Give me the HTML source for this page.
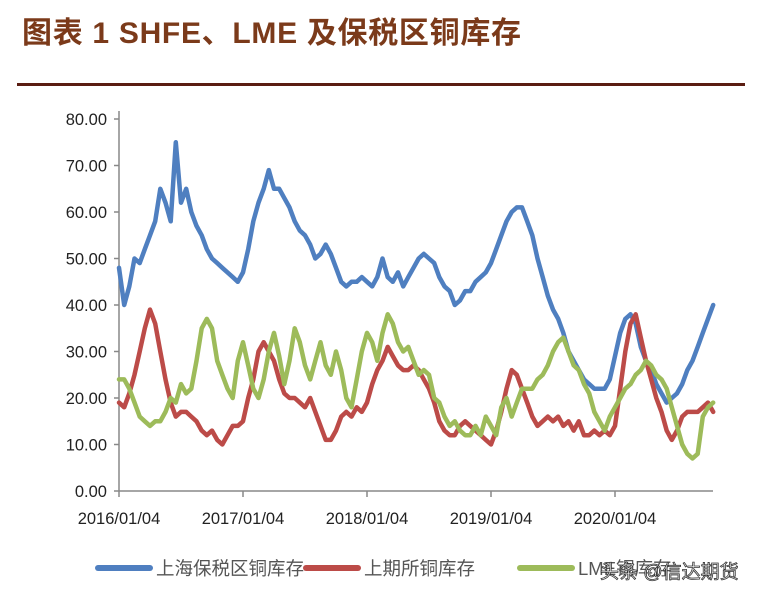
<!DOCTYPE html>
<html><head><meta charset="utf-8"><style>
body{margin:0;background:#fff;width:759px;height:600px;overflow:hidden;font-family:"Liberation Sans","Noto Sans CJK SC",sans-serif}
#title{position:absolute;left:22px;top:8px;font-size:30px;font-weight:bold;color:#7b3a1a;letter-spacing:0.7px}
#rule{position:absolute;left:17px;top:83px;width:728px;height:3px;background:#5a1d12}
svg{position:absolute;left:0;top:0}
</style></head><body>
<div id="title">图表 1 SHFE、LME 及保税区铜库存</div>
<div id="rule"></div>
<svg id="chart" width="759" height="600"></svg>
<script>
const yTicks=[0,10,20,30,40,50,60,70,80];
const xTickLabels=["2016/01/04","2017/01/04","2018/01/04","2019/01/04","2020/01/04"];
const seriesNames=["上海保税区铜库存","上期所铜库存","LME铜库存"];
const bonded=[48,40,44,50,49,52,55,58,65,62,58,75,62,65,60,57,55,52,50,49,48,47,46,45,
47,52,58,62,65,69,65,65,63,61,58,56,55,53,50,51,53,51,48,45,44,45,45,46,
45,44,46,50,46,45,47,44,46,48,50,51,50,49,46,44,43,40,41,43,43,45,46,47,
49,52,55,58,60,61,61,58,55,50,46,42,39,37,34,30,28,26,24,23,22,22,22,24,
29,34,37,38,36,31,28,26,23,21,19,20,21,23,26,28,31,34,37,40];
const shfe=[19,18,21,25,30,35,39,36,30,24,19,16,17,17,16,15,13,12,13,11,10,12,14,14,
15,20,24,30,32,30,28,24,21,20,20,19,18,20,17,14,11,11,13,16,17,16,18,17,
19,23,26,28,31,29,27,26,26,27,26,24,22,19,15,13,12,12,14,15,14,13,12,11,
10,13,17,22,26,25,22,19,16,14,15,16,15,16,14,15,13,15,12,12,13,12,13,12,
14,22,30,36,38,33,28,24,20,17,13,11,13,16,17,17,17,18,19,17];
const lme=[24,24,22,19,16,15,14,15,15,17,20,19,23,21,22,28,35,37,35,28,25,22,20,28,
32,27,22,20,24,30,34,29,23,28,35,32,27,24,28,32,27,25,30,26,20,18,24,30,
34,32,28,34,38,36,32,30,31,28,25,26,25,20,19,16,14,15,13,12,12,14,12,16,
14,12,18,20,16,19,22,22,22,24,25,27,30,32,33,30,27,26,23,21,17,15,13,16,
18,20,22,23,25,26,28,27,25,24,22,18,14,10,8,7,8,16,18,19];
const colors=["#4f7fc0","#bc4b48","#9dbb5a"];
const X0=119,X1=713,Y0=491,Y80=119,yearPx=124;
const ns="http://www.w3.org/2000/svg";
const svg=document.getElementById('chart');
const xIdx=i=>X0+i*yearPx/24;
const y=v=>Y0-(v/80)*(Y0-Y80);
function mk(t,a){const e=document.createElementNS(ns,t);for(const k in a)e.setAttribute(k,a[k]);svg.appendChild(e);return e;}
let e=mk('line',{x1:X0,y1:Y80-8,x2:X0,y2:Y0,stroke:'#888','stroke-width':1.5});


e=mk('line',{x1:X0,y1:Y0,x2:X1,y2:Y0,stroke:'#888','stroke-width':1.5});


yTicks.forEach(v=>{
 mk('line',{x1:X0-5,y1:y(v),x2:X0,y2:y(v),stroke:'#888','stroke-width':1.5});
 const t=mk('text',{x:107,y:y(v)+6,'text-anchor':'end','font-size':16.5,fill:'#222'});
 t.textContent=v.toFixed(2);
 
 
});
xTickLabels.forEach((l,i)=>{
 const xx=X0+i*yearPx;
 mk('line',{x1:xx,y1:Y0,x2:xx,y2:Y0+6,stroke:'#888','stroke-width':1.5});
 const t=mk('text',{x:xx,y:524,'text-anchor':'middle','font-size':16.5,fill:'#222'});
 t.textContent=l;
 
 
});
[bonded,shfe,lme].forEach((s,k)=>{
 const p=mk('polyline',{points:s.map((v,i)=>xIdx(i).toFixed(1)+','+y(v).toFixed(1)).join(' '),fill:'none',stroke:colors[k],'stroke-width':4.5,'stroke-linejoin':'round','stroke-linecap':'round'});
 
 
});
const legX=[98,306,520];
seriesNames.forEach((n,k)=>{
 const l=mk('line',{x1:legX[k],y1:568,x2:legX[k]+52,y2:568,stroke:colors[k],'stroke-width':6,'stroke-linecap':'round'});
 
 
 const t=mk('text',{x:legX[k]+58,y:575,'font-size':18.5,fill:'#555'});
 t.textContent=n;
 
 
});
const w=mk('text',{x:600,y:578,'font-size':19,fill:'#fff',stroke:'#333','stroke-width':0.8});
w.textContent='头条 @信达期货';


</script>
</body></html>
